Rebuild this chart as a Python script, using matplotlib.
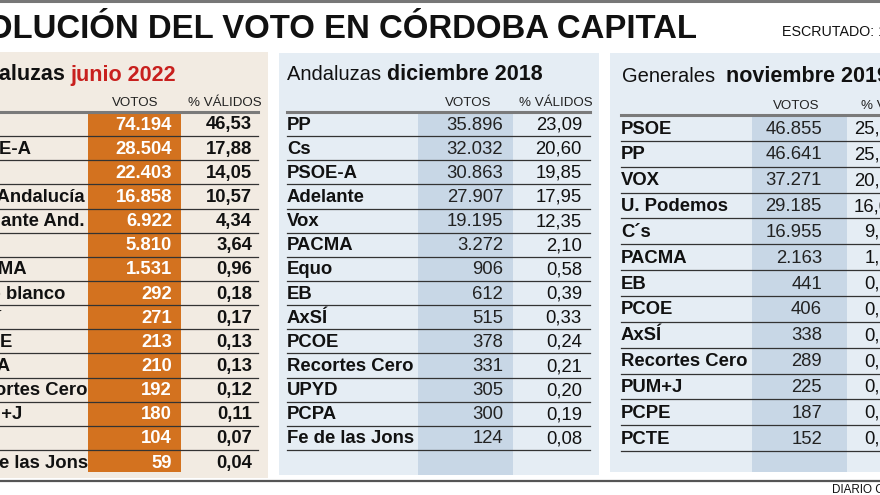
import matplotlib
matplotlib.use("Agg")
import matplotlib.pyplot as plt
from matplotlib.patches import Rectangle

plt.rcParams['font.family'] = ['Liberation Sans', 'DejaVu Sans']

# ── Texts ─────────────────────────────────────────────────
TITLE = "EVOLUCIÓN DEL VOTO EN CÓRDOBA CAPITAL"
SCRUTINY = "ESCRUTADO: 100%"
SOURCE = "DIARIO CÓRDOBA"
HEAD_VOTES = "VOTOS"
HEAD_PCT = "% VÁLIDOS"

# ── Data ──────────────────────────────────────────────────
# Andaluzas junio 2022
parties_2022 = ["PP", "PSOE-A", "Vox", "Por Andalucía", "Adelante And.", "Cs",
                "PACMA", "Voto blanco", "AxSí", "PCOE", "PCPA",
                "Recortes Cero", "PUM+J", "EB", "Fe de las Jons"]
votes_2022 = [74194, 28504, 22403, 16858, 6922, 5810, 1531, 292, 271, 213,
              210, 192, 180, 104, 59]
pct_2022 = [46.53, 17.88, 14.05, 10.57, 4.34, 3.64, 0.96, 0.18, 0.17, 0.13,
            0.13, 0.12, 0.11, 0.07, 0.04]

# Andaluzas diciembre 2018
parties_2018 = ["PP", "Cs", "PSOE-A", "Adelante", "Vox", "PACMA", "Equo", "EB",
                "AxSÍ", "PCOE", "Recortes Cero", "UPYD", "PCPA", "Fe de las Jons"]
votes_2018 = [35896, 32032, 30863, 27907, 19195, 3272, 906, 612, 515, 378,
              331, 305, 300, 124]
pct_2018 = [23.09, 20.60, 19.85, 17.95, 12.35, 2.10, 0.58, 0.39, 0.33, 0.24,
            0.21, 0.20, 0.19, 0.08]

# Generales noviembre 2019
parties_2019 = ["PSOE", "PP", "VOX", "U. Podemos", "C´s", "PACMA", "EB", "PCOE",
                "AxSÍ", "Recortes Cero", "PUM+J", "PCPE", "PCTE"]
votes_2019 = [46855, 46641, 37271, 29185, 16955, 2163, 441, 406, 338, 289,
              225, 187, 152]
pct_2019 = [25.70, 25.58, 20.44, 16.01, 9.30, 1.19, 0.24, 0.22, 0.19, 0.16,
            0.12, 0.10, 0.08]

# layout in pixels (figure is 880x495, y grows downward)
panels = [
    dict(lead="Andaluzas ", when="junio 2022", lead_bold=True, when_color="#c8201e",
         parties=parties_2022, votes=votes_2022, pct=pct_2022,
         name_x=-39, head_x=-43, head_y=75, bg=(-10, 268), top=52, bottom=478,
         band_x=(88, 181), band_bottom=472, votes_x=172, pct_x=252, line_x1=258,
         hv_x=135, hp_x=262, y0=124, step=24.15,
         bg_color="#f2ebe2", band_color="#d3721f", vote_color="white",
         num_weight="bold", last_line=False),
    dict(lead="Andaluzas ", when="diciembre 2018", lead_bold=False, when_color="#111111",
         parties=parties_2018, votes=votes_2018, pct=pct_2018,
         name_x=287, head_x=287, head_y=75, bg=(279, 599), top=53, bottom=475,
         band_x=(418, 513), band_bottom=475, votes_x=503, pct_x=582, line_x1=590,
         hv_x=468, hp_x=593, y0=124, step=24.15,
         bg_color="#e5edf4", band_color="#c8d7e6", vote_color="#222222",
         num_weight="normal", last_line=True),
    dict(lead="Generales  ", when="noviembre 2019", lead_bold=False, when_color="#111111",
         parties=parties_2019, votes=votes_2019, pct=pct_2019,
         name_x=621, head_x=622, head_y=77, bg=(610, 900), top=53, bottom=472,
         band_x=(752, 847), band_bottom=472, votes_x=822, pct_x=900, line_x1=905,
         hv_x=796, hp_x=935, y0=128, step=25.85,
         bg_color="#e5edf4", band_color="#c8d7e6", vote_color="#222222",
         num_weight="normal", last_line=True),
]


def fmt_votes(v):
    return f"{v:,}".replace(",", ".")


def fmt_pct(p):
    return f"{p:.2f}".replace(".", ",")


fig = plt.figure(figsize=(8.8, 4.95), dpi=100)
fig.patch.set_facecolor("white")
ax = fig.add_axes([0, 0, 1, 1])
ax.set_xlim(0, 880)
ax.set_ylim(495, 0)
ax.axis("off")

# ── Frame lines & title ───────────────────────────────────
ax.plot([0, 880], [1, 1], color="#777777", lw=2.2, clip_on=False)
ax.plot([0, 880], [481, 481], color="#555555", lw=1.6)
ax.text(697, 29, TITLE, ha="right", va="center", fontsize=23.7,
        fontweight="bold", color="#111111")
ax.text(782, 32, SCRUTINY, ha="left", va="center", fontsize=10.3, color="#111111")
ax.text(832, 490, SOURCE, ha="left", va="center", fontsize=8.4, color="#111111")

# ── Panels ────────────────────────────────────────────────
for p in panels:
    n = len(p["parties"])
    ys = [p["y0"] + i * p["step"] for i in range(n)]
    line_top = p["y0"] - p["step"] / 2
    x0, x1 = p["name_x"], p["line_x1"]

    ax.add_patch(Rectangle((p["bg"][0], p["top"]), p["bg"][1] - p["bg"][0],
                           p["bottom"] - p["top"],
                           facecolor=p["bg_color"], edgecolor="none", zorder=0))
    ax.add_patch(Rectangle((p["band_x"][0], line_top),
                           p["band_x"][1] - p["band_x"][0], p["band_bottom"] - line_top,
                           facecolor=p["band_color"], edgecolor="none", zorder=1))

    lead = ax.text(p["head_x"], p["head_y"], p["lead"], ha="left", va="center",
                   fontsize=15.5 if p["lead_bold"] else 14.5, color="#111111",
                   fontweight="bold" if p["lead_bold"] else "normal")
    ax.annotate(p["when"], xy=(1, 0.5), xycoords=lead, ha="left", va="center",
                fontsize=15.5, fontweight="bold", color=p["when_color"])

    hy = line_top - 9
    ax.text(p["hv_x"], hy, HEAD_VOTES, ha="center", va="center", fontsize=9.6,
            color="#222222")
    ax.text(p["hp_x"], hy, HEAD_PCT, ha="right", va="center", fontsize=9.6,
            color="#222222")
    ax.plot([x0, x1], [line_top, line_top], color="#7a7a7a", lw=2.2, zorder=3)

    for i, (name, v, pc) in enumerate(zip(p["parties"], p["votes"], p["pct"])):
        y = ys[i]
        ax.text(x0, y + 1, name, ha="left", va="center", fontsize=13.3,
                fontweight="bold", color="#111111", zorder=4)
        ax.text(p["votes_x"], y + 1, fmt_votes(v), ha="right", va="center",
                fontsize=13.3, fontweight=p["num_weight"], color=p["vote_color"],
                zorder=4)
        ax.text(p["pct_x"], y + 1, fmt_pct(pc), ha="right", va="center",
                fontsize=13.3, fontweight=p["num_weight"], color="#111111", zorder=4)
        if i < n - 1 or p["last_line"]:
            ly = y + p["step"] / 2
            ax.plot([x0, x1], [ly, ly], color="#333333", lw=0.9, zorder=3)

fig.savefig("out.png", dpi=100, facecolor=fig.get_facecolor())
plt.close(fig)
